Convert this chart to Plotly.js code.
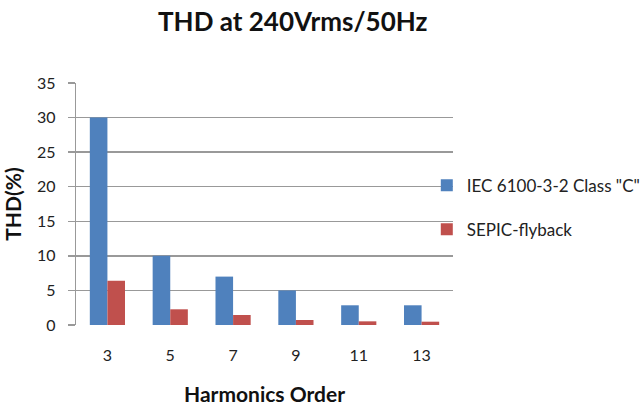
<!DOCTYPE html>
<html>
<head>
<meta charset="utf-8">
<script src="https://cdn.plot.ly/plotly-3.0.1.min.js"></script>
<style>
  html, body { margin: 0; padding: 0; background: #fff; }
  #chart { width: 642px; height: 406px; }
</style>
</head>
<body>
<div id="chart"></div>
<script>
// Harmonic orders on the x axis
const harmonicOrders = ['3', '5', '7', '9', '11', '13'];
// IEC 61000-3-2 Class C limits (%)
const iecLimit = [30, 10, 7, 5, 2.85, 2.85];
// Measured SEPIC-flyback harmonic content (%)
const sepicFlyback = [6.4, 2.27, 1.45, 0.72, 0.53, 0.48];
const yTicks = [0, 5, 10, 15, 20, 25, 30, 35];

const font = 'Lato, "Open Sans", sans-serif';

const traces = [
  {
    type: 'bar', name: 'IEC 6100-3-2 Class "C"',
    x: harmonicOrders, y: iecLimit,
    marker: { color: '#4F81BD' }, legendgroup: 'a'
  },
  {
    type: 'bar', name: 'SEPIC-flyback',
    x: harmonicOrders, y: sepicFlyback,
    marker: { color: '#C0504D' }, legendgroup: 'b'
  }
];

const layout = {
  width: 642, height: 406,
  // fixed margins; the legend is allowed to run off the right edge
  margin: { l: 76, r: 189, t: 83, b: 81, autoexpand: false },
  paper_bgcolor: '#fff', plot_bgcolor: '#fff',
  font: { family: font, color: '#222', size: 15 },
  title: {
    text: '<b>THD at 240Vrms/50Hz</b>',
    font: { family: font, size: 26, color: '#111' },
    x: 0.456, xanchor: 'center', y: 0.945, yanchor: 'middle'
  },
  barmode: 'group', bargap: 0.44, bargroupgap: 0,
  xaxis: {
    type: 'category',
    title: { text: '<b>Harmonics Order</b>', font: { family: font, size: 21, color: '#111' }, standoff: 26 },
    showline: false, showgrid: false, ticks: '',
    ticklabelstandoff: 19,
    tickfont: { family: font, size: 16, color: '#222' }
  },
  yaxis: {
    range: [0, 35], tickvals: yTicks,
    title: { text: '<b>THD(%)</b>', font: { family: font, size: 21, color: '#111' }, standoff: 12 },
    showgrid: true, gridcolor: '#999', gridwidth: 1.3,
    showline: true, linecolor: '#999', linewidth: 1.3,
    ticks: 'outside', ticklen: 7, tickcolor: '#999', tickwidth: 1.3,
    ticklabelstandoff: 9,
    tickfont: { family: font, size: 16, color: '#222' },
    zeroline: false
  },
  showlegend: true,
  legend: {
    x: 0.9305, xanchor: 'left', y: 0.65, yanchor: 'top',
    bgcolor: 'rgba(0,0,0,0)', traceorder: 'grouped', tracegroupgap: 19,
    font: { family: font, size: 17, color: '#222' }
  }
};

Plotly.newPlot('chart', traces, layout, { displayModeBar: false, staticPlot: true });
</script>
</body>
</html>
